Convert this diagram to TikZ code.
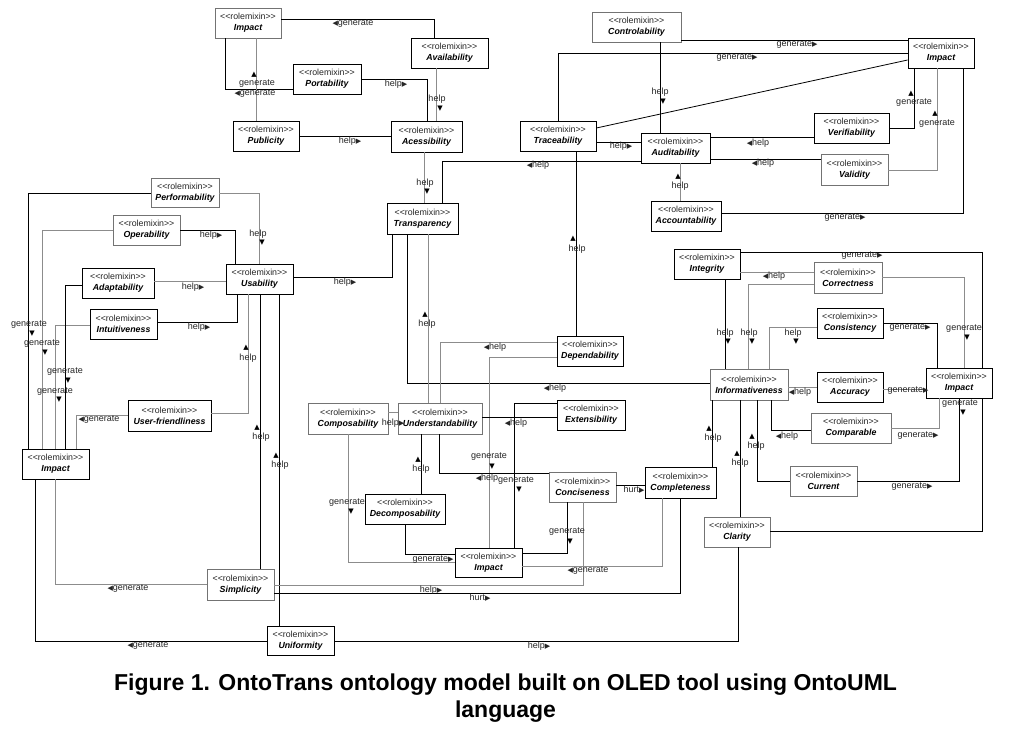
\documentclass[tikz,border=0pt]{standalone}
\usepackage{fontspec}
\setmainfont{Liberation Sans}
\newfontfamily\symf{DejaVu Sans}
\newcommand\RA{{\symf\fontsize{7}{7}\selectfont ▶}}
\newcommand\LA{{\symf\fontsize{7}{7}\selectfont ◀}}
\newcommand\UA{{\symf\fontsize{7}{7}\selectfont ▲}}
\newcommand\DA{{\symf\fontsize{7}{7}\selectfont ▼}}
\newcommand\stereo{{\color{black!85}<\kern0pt<rolemixin>\kern0pt>}}
\tikzset{
  cls/.style={draw=black, line width=0.8pt, fill=white, inner sep=0pt, align=center,
    font=\fontsize{8.8}{11}\selectfont},
  clsg/.style={cls, draw=black!55},
  ln/.style={line width=0.8pt, black},
  lg/.style={line width=1pt, black!45},
  lbl/.style={inner sep=0pt, font=\fontsize{9}{10}\selectfont, text=black!85},
  mk/.style={inner sep=0pt, text=black},
}
\newcommand\mycls[7][cls]{\node[#1, minimum width={(#5-#3)*1pt}, minimum height={(#6-#4)*1pt}] (#2) at ({(#3+#5)/2},{(#4+#6)/2}) {\stereo\\\bfseries\itshape #7};}
\newcommand\mylab[3]{\node[lbl] at (#1,#2) {#3};}
\newcommand\mymk[3]{\node[mk] at (#1,#2) {#3};}
\begin{document}
\begin{tikzpicture}[x=1pt,y=-1pt]
\useasboundingbox[fill=white] (0,0) rectangle (1011,733);
% ---------- classes ----------
\mycls[clsg]{ImpA}{215}{8}{281}{38}{Impact}
\mycls{Avail}{411}{38}{488}{68}{Availability}
\mycls{Port}{293}{64}{361}{94}{Portability}
\mycls{Publ}{233}{121}{299}{151}{Publicity}
\mycls{Acc}{391}{121}{462}{152}{Acessibility}
\mycls{Transp}{387}{203}{458}{234}{Transparency}
\mycls[clsg]{Contr}{592}{12}{681}{42}{Controlability}
\mycls{ImpB}{908}{38}{974}{68}{Impact}
\mycls{Trace}{520}{121}{596}{151}{Traceability}
\mycls{Audit}{641}{133}{710}{163}{Auditability}
\mycls{Verif}{814}{113}{889}{143}{Verifiability}
\mycls[clsg]{Valid}{821}{154}{888}{185}{Validity}
\mycls{Accnt}{651}{201}{721}{231}{Accountability}
\mycls[clsg]{Perf}{151}{178}{219}{207}{Performability}
\mycls[clsg]{Oper}{113}{215}{180}{245}{Operability}
\mycls{Adapt}{82}{268}{154}{298}{Adaptability}
\mycls{Usab}{226}{264}{293}{294}{Usability}
\mycls{Intu}{90}{309}{157}{339}{Intuitiveness}
\mycls{UserF}{128}{400}{211}{431}{User-friendliness}
\mycls{ImpC}{22}{449}{89}{479}{Impact}
\mycls[clsg]{Simpl}{207}{569}{274}{600}{Simplicity}
\mycls{Unif}{267}{626}{334}{655}{Uniformity}
\mycls[clsg]{Compo}{308}{403}{388}{434}{Composability}
\mycls[clsg]{Under}{398}{403}{482}{434}{Understandability}
\mycls{Depend}{557}{336}{623}{366}{Dependability}
\mycls{Ext}{557}{400}{625}{430}{Extensibility}
\mycls{Decomp}{365}{494}{445}{524}{Decomposability}
\mycls{ImpD}{455}{548}{522}{577}{Impact}
\mycls[clsg]{Conc}{549}{472}{616}{502}{Conciseness}
\mycls{Compl}{645}{467}{716}{498}{Completeness}
\mycls{Integ}{674}{249}{740}{279}{Integrity}
\mycls[clsg]{Corr}{814}{262}{882}{293}{Correctness}
\mycls{Consis}{817}{308}{883}{338}{Consistency}
\mycls[clsg]{Inform}{710}{369}{788}{400}{Informativeness}
\mycls{Accur}{817}{372}{883}{402}{Accuracy}
\mycls{ImpE}{926}{368}{992}{398}{Impact}
\mycls[clsg]{Compar}{811}{413}{891}{443}{Comparable}
\mycls[clsg]{Curr}{790}{466}{857}{496}{Current}
\mycls[clsg]{Clar}{704}{517}{770}{547}{Clarity}
% ---------- connectors ----------
\draw[ln] (ImpA.east |- 0,19) -- (434,19) -- (Avail.north -| 434,0);
\draw[ln] (ImpA.south -| 225,0) -- (225,89) -- (Port.west |- 0,89);
\draw[lg] (ImpA.south -| 256,0) -- (Publ.north -| 256,0);
\draw[ln] (Port.east |- 0,79) -- (427,79) -- (Acc.north -| 427,0);
\draw[lg] (Avail.south -| 436,0) -- (Acc.north -| 436,0);
\draw[ln] (Publ.east |- 0,136) -- (Acc.west |- 0,136);
\draw[lg] (Acc.south -| 424,0) -- (Transp.north -| 424,0);
\draw[ln] (Audit.west |- 0,161) -- (442,161) -- (Transp.north -| 442,0);
\draw[ln] (Contr.south -| 660,0) -- (Audit.north -| 660,0);
\draw[ln] (Contr.east |- 0,40) -- (ImpB.west |- 0,40);
\draw[ln] (Trace.north -| 558,0) -- (558,53) -- (ImpB.west |- 0,53);
\draw[ln] (Trace.east |- 0,128) -- (ImpB.west |- 0,60);
\draw[ln] (Trace.east |- 0,142) -- (Audit.west |- 0,142);
\draw[ln] (Verif.west |- 0,137) -- (Audit.east |- 0,137);
\draw[ln] (Valid.west |- 0,159) -- (Audit.east |- 0,159);
\draw[lg] (Accnt.north -| 680,0) -- (Audit.south -| 680,0);
\draw[ln] (Verif.east |- 0,128) -- (914,128) -- (ImpB.south -| 914,0);
\draw[lg] (Valid.east |- 0,170) -- (937,170) -- (ImpB.south -| 937,0);
\draw[ln] (Accnt.east |- 0,213) -- (963,213) -- (ImpB.south -| 963,0);
\draw[ln] (Trace.south -| 576,0) -- (Depend.north -| 576,0);
\draw[lg] (Perf.east |- 0,193) -- (259,193) -- (Usab.north -| 259,0);
\draw[ln] (Perf.west |- 0,193) -- (28,193) -- (ImpC.north -| 28,0);
\draw[lg] (Oper.west |- 0,230) -- (42,230) -- (ImpC.north -| 42,0);
\draw[lg] (Intu.west |- 0,325) -- (55,325) -- (ImpC.north -| 55,0);
\draw[ln] (Adapt.west |- 0,285) -- (65,285) -- (ImpC.north -| 65,0);
\draw[ln] (Oper.east |- 0,230) -- (235,230) -- (Usab.north -| 235,0);
\draw[lg] (Adapt.east |- 0,281) -- (Usab.west |- 0,281);
\draw[ln] (Intu.east |- 0,322) -- (237,322) -- (Usab.south -| 237,0);
\draw[lg] (UserF.east |- 0,413) -- (248,413) -- (Usab.south -| 248,0);
\draw[lg] (UserF.west |- 0,415) -- (76,415) -- (ImpC.north -| 76,0);
\draw[ln] (Usab.south -| 260,0) -- (Simpl.north -| 260,0);
\draw[ln] (Usab.south -| 279,0) -- (Unif.north -| 279,0);
\draw[ln] (Usab.east |- 0,277) -- (392,277) -- (Transp.south -| 392,0);
\draw[lg] (Simpl.west |- 0,584) -- (55,584) -- (ImpC.south -| 55,0);
\draw[ln] (Unif.west |- 0,641) -- (35,641) -- (ImpC.south -| 35,0);
\draw[lg] (Simpl.east |- 0,585) -- (583,585) -- (Conc.south -| 583,0);
\draw[ln] (Simpl.east |- 0,593) -- (680,593) -- (Compl.south -| 680,0);
\draw[lg] (ImpD.east |- 0,566) -- (662,566) -- (Compl.south -| 662,0);
\draw[ln] (Unif.east |- 0,641) -- (738,641) -- (Clar.south -| 738,0);
\draw[ln] (Transp.south -| 407,0) -- (407,383) -- (Inform.west |- 0,383);
\draw[lg] (Transp.south -| 428,0) -- (Under.north -| 428,0);
\draw[lg] (Depend.west |- 0,342) -- (440,342) -- (Under.north -| 440,0);
\draw[lg] (Depend.west |- 0,357) -- (489,357) -- (ImpD.north -| 489,0);
\draw[ln] (Ext.west |- 0,417) -- (Under.east |- 0,417);
\draw[ln] (Ext.west |- 0,403) -- (514,403) -- (ImpD.north -| 514,0);
\draw[lg] (Compo.east |- 0,412) -- (Under.west |- 0,412);
\draw[lg] (Compo.south -| 348,0) -- (348,562) -- (ImpD.west |- 0,562);
\draw[ln] (Under.south -| 421,0) -- (Decomp.north -| 421,0);
\draw[ln] (Decomp.south -| 405,0) -- (405,554) -- (ImpD.west |- 0,554);
\draw[ln] (Conc.west |- 0,473) -- (439,473) -- (Under.south -| 439,0);
\draw[ln] (Conc.south -| 567,0) -- (567,553) -- (ImpD.east |- 0,553);
\draw[ln] (Conc.east |- 0,485) -- (Compl.west |- 0,485);
\draw[ln] (Compl.north -| 712,0) -- (Inform.south -| 712,0);
\draw[ln] (Clar.north -| 740,0) -- (Inform.south -| 740,0);
\draw[ln] (Curr.west |- 0,481) -- (757,481) -- (Inform.south -| 757,0);
\draw[ln] (Compar.west |- 0,430) -- (771,430) -- (Inform.south -| 771,0);
\draw[lg] (Accur.west |- 0,387) -- (Inform.east |- 0,387);
\draw[lg] (Consis.west |- 0,327) -- (769,327) -- (Inform.north -| 769,0);
\draw[lg] (Corr.west |- 0,284) -- (748,284) -- (Inform.north -| 748,0);
\draw[ln] (Integ.south -| 725,0) -- (Inform.north -| 725,0);
\draw[lg] (Corr.west |- 0,272) -- (Integ.east |- 0,272);
\draw[ln] (Integ.east |- 0,252) -- (982,252) -- (ImpE.north -| 982,0);
\draw[lg] (Corr.east |- 0,277) -- (964,277) -- (ImpE.north -| 964,0);
\draw[ln] (Consis.east |- 0,323) -- (937,323) -- (ImpE.north -| 937,0);
\draw[lg] (Accur.east |- 0,389) -- (ImpE.west |- 0,389);
\draw[lg] (Compar.east |- 0,428) -- (939,428) -- (ImpE.south -| 939,0);
\draw[ln] (Curr.east |- 0,481) -- (959,481) -- (ImpE.south -| 959,0);
\draw[ln] (Clar.east |- 0,531) -- (982,531) -- (ImpE.south -| 982,0);
% ---------- labels ----------
\mylab{353}{24}{\LA generate}
\mymk{254}{75}{\UA}\mylab{257}{84}{generate}
\mylab{255}{94}{\LA generate}
\mylab{396}{84}{help\RA}
\mylab{437}{99}{help}\mymk{440}{109}{\DA}
\mylab{350}{141}{help\RA}
\mylab{425}{183}{help}\mymk{427}{192}{\DA}
\mylab{538}{165}{\LA help}
\mylab{660}{92}{help}\mymk{663}{102}{\DA}
\mylab{797}{45}{generate\RA}
\mylab{737}{58}{generate\RA}
\mylab{621}{146}{help\RA}
\mylab{758}{143}{\LA help}
\mylab{763}{163}{\LA help}
\mymk{678}{177}{\UA}\mylab{680}{186}{help}
\mymk{911}{94}{\UA}\mylab{914}{103}{generate}
\mymk{935}{114}{\UA}\mylab{937}{124}{generate}
\mylab{845}{218}{generate\RA}
\mymk{573}{239}{\UA}\mylab{577}{249}{help}
\mylab{258}{234}{help}\mymk{262}{243}{\DA}
\mylab{29}{325}{generate}\mymk{32}{334}{\DA}
\mylab{42}{344}{generate}\mymk{45}{353}{\DA}
\mylab{65}{372}{generate}\mymk{68}{381}{\DA}
\mylab{55}{392}{generate}\mymk{59}{400}{\DA}
\mylab{211}{235}{help\RA}
\mylab{193}{287}{help\RA}
\mylab{199}{327}{help\RA}
\mymk{246}{348}{\UA}\mylab{248}{358}{help}
\mylab{99}{420}{\LA generate}
\mymk{257}{428}{\UA}\mylab{261}{437}{help}
\mymk{276}{456}{\UA}\mylab{280}{465}{help}
\mylab{345}{282}{help\RA}
\mylab{128}{589}{\LA generate}
\mylab{148}{646}{\LA generate}
\mylab{431}{590}{help\RA}
\mylab{480}{598}{hurt\RA}
\mylab{588}{571}{\LA generate}
\mylab{539}{646}{help\RA}
\mylab{555}{388}{\LA help}
\mymk{425}{315}{\UA}\mylab{427}{324}{help}
\mylab{495}{347}{\LA help}
\mylab{489}{457}{generate}\mymk{492}{467}{\DA}
\mylab{516}{423}{\LA help}
\mylab{516}{481}{generate}\mymk{519}{490}{\DA}
\mylab{393}{423}{help\RA}
\mylab{347}{503}{generate}\mymk{351}{512}{\DA}
\mylab{433}{560}{generate\RA}
\mymk{418}{460}{\UA}\mylab{421}{469}{help}
\mylab{487}{478}{\LA help}
\mylab{567}{532}{generate}\mymk{570}{542}{\DA}
\mylab{634}{490}{hurt\RA}
\mymk{709}{429}{\UA}\mylab{713}{438}{help}
\mymk{737}{454}{\UA}\mylab{740}{463}{help}
\mymk{752}{437}{\UA}\mylab{756}{446}{help}
\mylab{787}{436}{\LA help}
\mylab{800}{392}{\LA help}
\mylab{793}{333}{help}\mymk{796}{342}{\DA}
\mylab{749}{333}{help}\mymk{752}{342}{\DA}
\mylab{725}{333}{help}\mymk{728}{342}{\DA}
\mylab{774}{276}{\LA help}
\mylab{862}{256}{generate\RA}
\mylab{964}{329}{generate}\mymk{967}{338}{\DA}
\mylab{910}{328}{generate\RA}
\mylab{908}{391}{generate\RA}
\mylab{918}{436}{generate\RA}
\mylab{960}{404}{generate}\mymk{963}{413}{\DA}
\mylab{912}{487}{generate\RA}
% ---------- caption ----------
\node[inner sep=0pt, align=center, font=\fontsize{23}{26.5}\selectfont\bfseries] (cap) at (505.5,698)
  {Figure 1. OntoTrans ontology model built on OLED tool using OntoUML\\language};
\end{tikzpicture}
\end{document}
